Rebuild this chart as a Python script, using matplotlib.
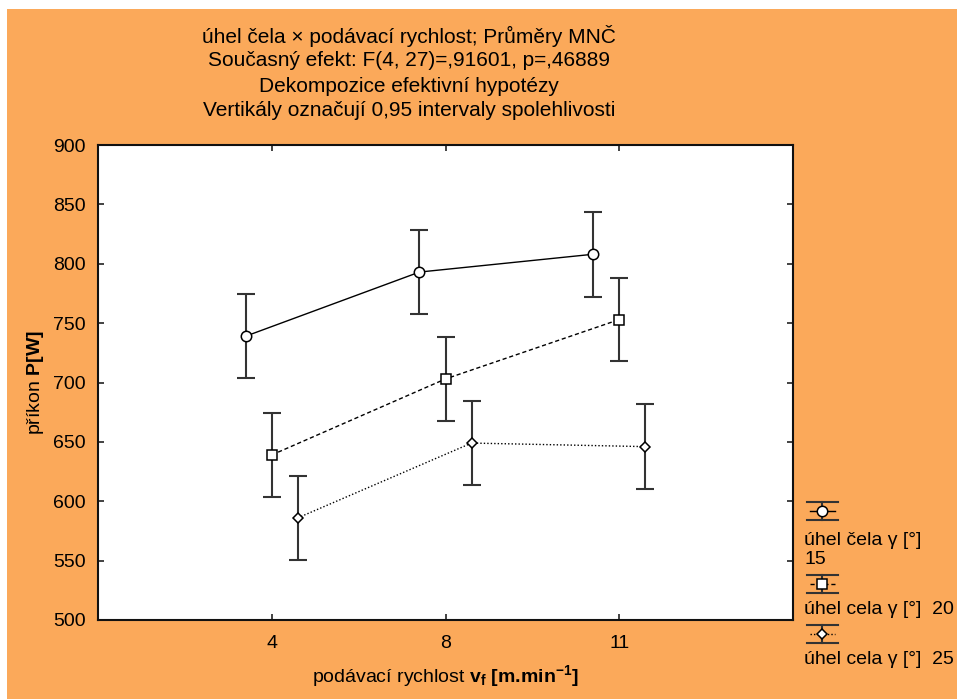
import matplotlib
matplotlib.use('Agg')
import matplotlib.pyplot as plt
from matplotlib.lines import Line2D
from matplotlib.patches import Rectangle
import numpy as np

plt.rcParams['font.family'] = ['Liberation Sans', 'DejaVu Sans']
plt.rcParams['mathtext.fontset'] = 'custom'
plt.rcParams['mathtext.rm'] = 'Liberation Sans'
plt.rcParams['mathtext.bf'] = 'Liberation Sans:bold'
plt.rcParams['mathtext.it'] = 'Liberation Sans:italic'

# data
speeds = ['4', '8', '11']
mean15 = [739, 793, 808]
mean20 = [639, 703, 753]
mean25 = [586, 649, 646]
ci15 = [35.3, 35.3, 35.8]
ci20 = [35.5, 35.5, 35.3]
ci25 = [35.5, 35.5, 35.5]
labels = ['úhel čela γ [°]\n15', 'úhel cela γ [°]  20', 'úhel cela γ [°]  25']

ORANGE = '#FBA95A'
W, H = 957, 699

def fx(x):
    return x / W

def fy(y):
    return 1 - y / H

fig = plt.figure(figsize=(W / 100, H / 100), dpi=100)
fig.patch.set_facecolor('white')
fig.patches.append(Rectangle((fx(7), 0), 1 - fx(7), fy(9), transform=fig.transFigure,
                             facecolor=ORANGE, edgecolor='none', zorder=-10))

ax = fig.add_axes([fx(98), fy(620), (793 - 98) / W, (620 - 145) / H])
ax.set_facecolor('white')

series = [
    (mean15, ci15, 'o', '-', -0.15, 7.5),
    (mean20, ci20, 's', (0, (3, 2)), 0.0, 7),
    (mean25, ci25, 'D', (0, (1, 1.5)), 0.15, 5.5),
]

x = np.arange(len(speeds))
for means, ci, mk, ls, off, ms in series:
    ax.errorbar(x + off, means, yerr=ci, fmt='none', ecolor='#333333',
                elinewidth=1.5, capsize=6.2, capthick=1.5, zorder=2)
    ax.plot(x + off, means, linestyle=ls, color='black', lw=1.0, zorder=3)
    ax.plot(x + off, means, linestyle='none', marker=mk, markersize=ms,
            markerfacecolor='white', markeredgecolor='black', markeredgewidth=1.1, zorder=4)

ax.set_xlim(-1, 3)
ax.set_ylim(500, 900)
ax.set_xticks(x)
ax.set_xticklabels(speeds)
ax.set_yticks(np.arange(500, 901, 50))
ax.tick_params(direction='in', length=4, width=1.2, color='#222222',
               left=True, right=True, bottom=True, top=True, labelsize=14)
ax.tick_params(axis='y', pad=9)
ax.tick_params(axis='x', pad=11)
for sp in ax.spines.values():
    sp.set_color('#111111')
    sp.set_linewidth(1.5)

ax.set_xlabel(r'podávací rychlost $\mathbf{v}_\mathbf{f}$ $\mathbf{[m.\!min^{-1}]}$',
              fontsize=14, labelpad=8)
ax.set_ylabel(r'příkon $\mathbf{P[W]}$', fontsize=14, labelpad=5)

title_lines = [
    'úhel čela × podávací rychlost; Průměry MNČ',
    'Současný efekt: F(4, 27)=,91601, p=,46889',
    'Dekompozice efektivní hypotézy',
    'Vertikály označují 0,95 intervaly spolehlivosti',
]
for i, t in enumerate(title_lines):
    fig.text(fx(409), fy(36 + i * 25), t, ha='center', va='center', fontsize=15)

# legend built by hand: symbol above the label
legend_y = [511, 584, 634]
text_y = [550, 610, 659]
for (means, ci, mk, ls, off, ms), ly, ty, lab in zip(series, legend_y, text_y, labels):
    x0, x1, xm = fx(807), fx(838), fx(822)
    fig.add_artist(Line2D([x0, x1], [fy(ly - 9)] * 2, color='#333333', lw=1.5,
                          transform=fig.transFigure))
    fig.add_artist(Line2D([x0, x1], [fy(ly + 9)] * 2, color='#333333', lw=1.5,
                          transform=fig.transFigure))
    fig.add_artist(Line2D([xm, xm], [fy(ly - 9), fy(ly + 9)], color='#333333', lw=1.5,
                          transform=fig.transFigure))
    fig.add_artist(Line2D([x0 + 0.003, x1 - 0.003], [fy(ly)] * 2, color='black', lw=1.0,
                          linestyle=ls, transform=fig.transFigure))
    fig.add_artist(Line2D([xm], [fy(ly)], marker=mk, markersize=ms, markerfacecolor='white',
                          markeredgecolor='black', markeredgewidth=1.1, linestyle='none',
                          transform=fig.transFigure))
    fig.text(fx(804), fy(ty), lab, ha='left', va='center', fontsize=14, linespacing=1.2)

fig.savefig('out.png', dpi=100)
